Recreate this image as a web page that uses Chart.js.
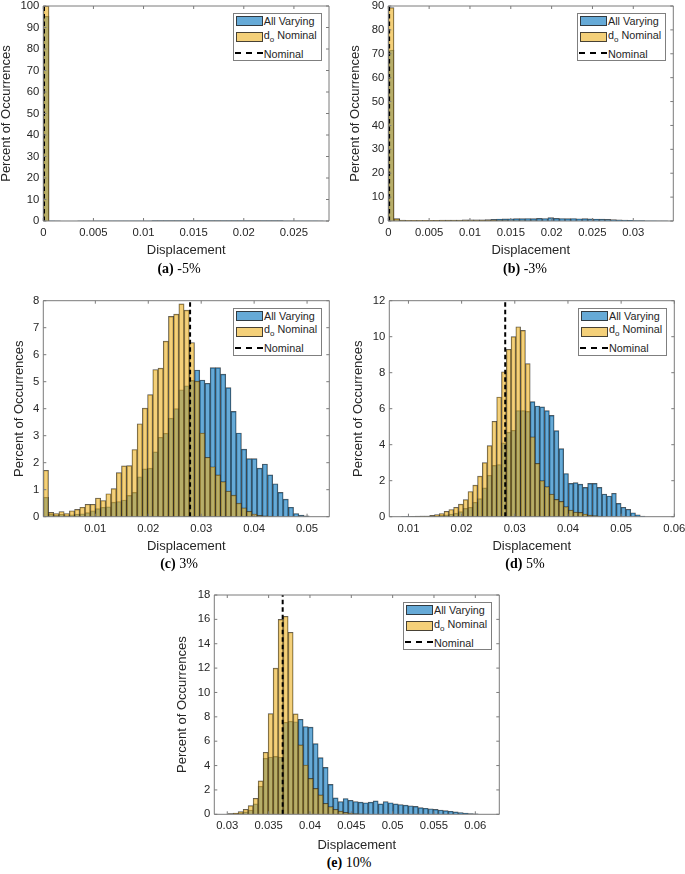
<!DOCTYPE html>
<html>
<head>
<meta charset="utf-8">
<script src="https://cdn.jsdelivr.net/npm/chart.js@4.4.1/dist/chart.umd.min.js"></script>
<style>
  body { margin: 0; background: #fff; }
  #page { position: relative; width: 685px; height: 874px; overflow: hidden; font-family: "Liberation Sans", Arial, sans-serif; }
  canvas { position: absolute; }
  .legend { position: absolute; width: 89px; height: 48px; border: 1px solid #7f7f7f; background: #fff; box-sizing: border-box; font-size: 10.8px; color: #262626; }
  .legend .sw { position: absolute; left: 2px; width: 27px; height: 10px; box-sizing: border-box; border: 1px solid rgba(40,40,40,0.85); }
  .legend .lbl { position: absolute; left: 30px; line-height: 12px; white-space: nowrap; }
  .legend .dash { position: absolute; left: 1px; width: 28px; height: 2px; background: repeating-linear-gradient(90deg, #000 0 6px, transparent 6px 11px); }
  .legend sub { font-size: 8px; line-height: 0; vertical-align: -3px; }
  .caption { position: absolute; font-family: "Liberation Serif", "Times New Roman", serif; font-size: 14px; color: #000; white-space: nowrap; transform: translate(-50%, -50%); }
</style>
</head>
<body>
<div id="page"></div>
<script>
// ---- data: (a) -5% ----
const xTicksA = [0, 0.005, 0.01, 0.015, 0.02, 0.025];
const yTicksA = [0, 10, 20, 30, 40, 50, 60, 70, 80, 90, 100];
const xRangeA = [0, 0.0285];
const binStartA = 0, binWidthA = 0.00057;
const allVaryingA = [95.2, 0.05, 0.03, 0.02, 0.02, 0.02, 0.03, 0.03, 0.04, 0.05,
  0.05, 0.06, 0.07, 0.08, 0.08, 0.1, 0.1, 0.12, 0.12, 0.14,
  0.15, 0.16, 0.17, 0.18, 0.2, 0.2, 0.22, 0.22, 0.23, 0.24,
  0.25, 0.25, 0.25, 0.24, 0.24, 0.23, 0.22, 0.2, 0.2, 0.18,
  0.17, 0.15, 0.13, 0.12, 0.1, 0.08, 0.06, 0.05, 0.03, 0.02];
const dNominalA = [100];
const nominalA = 0.00007;

// ---- data: (b) -3% ----
const xTicksB = [0, 0.005, 0.01, 0.015, 0.02, 0.025, 0.03];
const yTicksB = [0, 10, 20, 30, 40, 50, 60, 70, 80, 90];
const xRangeB = [0, 0.0349];
const binStartB = 0, binWidthB = 0.000698;
const allVaryingB = [71.6, 0.8, 0.3, 0.1, 0.1, 0.12, 0.15, 0.15, 0.2, 0.2,
  0.25, 0.28, 0.3, 0.35, 0.4, 0.45, 0.5, 0.55, 0.7, 0.85,
  0.9, 0.95, 1.0, 1.0, 1.05, 1.0, 1.1, 1.05, 1.4, 1.1,
  1.05, 1.0, 1.05, 0.95, 1.0, 0.9, 0.85, 0.8, 0.7, 0.6,
  0.5, 0.4, 0.3, 0.2, 0.15, 0.1, 0.06, 0.03, 0.02, 0.01];
const dNominalB = [89.3, 1.0, 0.4, 0.3, 0.25, 0.25, 0.3, 0.3, 0.3, 0.35,
  0.35, 0.4, 0.4, 0.45, 0.45, 0.4, 0.35, 0.3, 0.25, 0.2,
  0.15, 0.1, 0.08, 0.05, 0.03, 0.02, 0.01];
const nominalB = 0.0001;

// ---- data: (c) 3% ----
const xTicksC = [0.01, 0.02, 0.03, 0.04, 0.05];
const yTicksC = [0, 1, 2, 3, 4, 5, 6, 7, 8];
const xRangeC = [0.00017, 0.0542];
const binStartC = 0.00017, binWidthC = 0.000985;
const allVaryingC = [0.72, 0.09, 0.06, 0.09, 0.04, 0.07, 0.1, 0.11, 0.15, 0.22,
  0.3, 0.35, 0.37, 0.54, 0.56, 0.62, 0.79, 0.9, 1.48, 1.77,
  1.8, 2.4, 2.94, 3.09, 3.65, 4.0, 4.7, 4.85, 5.05, 5.43,
  5.06, 4.94, 5.52, 5.52, 5.28, 4.78, 3.9, 3.1, 2.5, 2.15,
  2.15, 1.8, 1.95, 1.55, 1.22, 0.9, 0.65, 0.35, 0.12, 0.06, 0.03];
const dNominalC = [1.72, 0.16, 0.12, 0.19, 0.12, 0.22, 0.27, 0.35, 0.46, 0.46,
  0.69, 0.6, 0.85, 1.04, 1.63, 1.88, 1.89, 2.49, 3.44, 4.02,
  4.52, 5.45, 5.5, 6.5, 7.42, 7.5, 7.88, 7.65, 6.45, 5.02,
  3.1, 2.2, 1.85, 1.55, 1.3, 0.95, 0.8, 0.5, 0.33, 0.2,
  0.1, 0.05, 0.03, 0.02];
const nominalC = 0.0279;

// ---- data: (d) 5% ----
const xTicksD = [0.01, 0.02, 0.03, 0.04, 0.05, 0.06];
const yTicksD = [0, 2, 4, 6, 8, 10, 12];
const xRangeD = [0.0064, 0.06];
const binStartD = 0.0068, binWidthD = 0.0009;
const allVaryingD = [0, 0, 0.01, 0.02, 0.02, 0.03, 0.03, 0.04, 0.03, 0.05,
  0.07, 0.1, 0.15, 0.2, 0.28, 0.46, 0.52, 0.8, 1.0, 1.6,
  2.3, 2.85, 2.9, 4.1, 4.7, 4.8, 5.9, 5.9, 5.85, 6.39,
  6.15, 6.1, 5.89, 5.63, 4.78, 3.78, 2.4, 1.85, 1.89, 1.81,
  1.63, 1.85, 1.85, 1.63, 1.26, 1.15, 1.3, 0.74, 0.52, 0.41,
  0.22, 0.11, 0.04];
const dNominalD = [0, 0, 0, 0, 0.01, 0.02, 0.03, 0.04, 0.07, 0.12,
  0.18, 0.3, 0.4, 0.52, 0.7, 0.95, 1.4, 1.75, 2.25, 3.0,
  3.95, 5.3, 6.65, 8.05, 9.3, 10.0, 10.55, 10.35, 8.5, 4.44,
  2.96, 2.0, 1.67, 1.26, 0.96, 0.85, 0.56, 0.37, 0.26, 0.24,
  0.15, 0.09, 0.06, 0.03];
const nominalD = 0.0282;

// ---- data: (e) 10% ----
const xTicksE = [0.03, 0.035, 0.04, 0.045, 0.05, 0.055, 0.06];
const yTicksE = [0, 2, 4, 6, 8, 10, 12, 14, 16, 18];
const xRangeE = [0.02843, 0.0629];
const binStartE = 0.0301, binWidthE = 0.000605;
const allVaryingE = [0.03, 0.05, 0.1, 0.2, 0.35, 0.85, 2.3, 4.6, 4.7, 4.75,
  4.7, 7.55, 7.65, 7.6, 7.8, 7.2, 7.15, 5.8, 4.65, 3.85,
  2.45, 1.35, 1.05, 1.3, 1.15, 1.05, 1.0, 0.95, 1.0, 1.1,
  0.85, 1.05, 0.95, 0.85, 0.8, 0.75, 0.7, 0.65, 0.55, 0.5,
  0.45, 0.4, 0.35, 0.3, 0.25, 0.2, 0.15, 0.1, 0.05, 0.03];
const dNominalE = [0.05, 0.11, 0.22, 0.41, 0.71, 1.31, 2.74, 5.09, 8.26, 12.0,
  16.0, 16.25, 14.94, 8.24, 5.7, 4.05, 2.95, 2.13, 1.59, 0.9,
  0.63, 0.41, 0.27, 0.16, 0.11, 0.05, 0.03, 0.02];
const nominalE = 0.0367;

// ---- styling ----
Chart.defaults.font.family = '"Liberation Sans", Arial, Helvetica, sans-serif';
Chart.defaults.color = "#262626";

const blueFill = "rgba(0,114,189,0.6)";
const yellowFill = "rgba(237,177,32,0.6)";
const edgeColor = "rgba(30,30,30,0.75)";
const page = document.getElementById("page");

const tickLabel = (v) => String(+Number(v).toFixed(4));

function binPoints(start, width, values) {
  return values.map((v, k) => ({ x: start + (k + 0.5) * width, y: v }));
}

// box round the axes with inward ticks, like MATLAB
const axisBox = {
  id: "axisBox",
  afterDatasetsDraw(chart) {
    const { ctx, chartArea: a, scales } = chart;
    ctx.save();
    ctx.strokeStyle = "#7b7b7b";
    ctx.lineWidth = 1;
    ctx.beginPath();
    ctx.rect(a.left, a.top, a.right - a.left, a.bottom - a.top);
    scales.x.ticks.forEach((t) => {
      const px = scales.x.getPixelForValue(t.value);
      ctx.moveTo(px, a.bottom); ctx.lineTo(px, a.bottom - 3);
      ctx.moveTo(px, a.top); ctx.lineTo(px, a.top + 3);
    });
    scales.y.ticks.forEach((t) => {
      const py = scales.y.getPixelForValue(t.value);
      ctx.moveTo(a.left, py); ctx.lineTo(a.left + 3, py);
      ctx.moveTo(a.right, py); ctx.lineTo(a.right - 3, py);
    });
    ctx.stroke();
    ctx.restore();
  },
};

function addLegend(chart, box) {
  const a = chart.chartArea;
  const lg = document.createElement("div");
  lg.className = "legend";
  lg.style.left = box.x + a.right - 7.3 - 89 + "px";
  lg.style.top = box.y + a.top + 7 + "px";
  lg.innerHTML =
    '<div class="sw" style="top:2.3px;background:#66aad7"></div>' +
    '<div class="lbl" style="top:1px">All Varying</div>' +
    '<div class="sw" style="top:18px;background:#f4d079"></div>' +
    '<div class="lbl" style="top:14.7px">d<sub>o</sub> Nominal</div>' +
    '<div class="dash" style="top:38px"></div>' +
    '<div class="lbl" style="top:33.6px">Nominal</div>';
  page.appendChild(lg);
}

function addCaption(html, x, y) {
  const c = document.createElement("div");
  c.className = "caption";
  c.style.left = x + "px";
  c.style.top = y + "px";
  c.innerHTML = html;
  page.appendChild(c);
}

function drawPanel(p) {
  const cv = document.createElement("canvas");
  cv.width = p.box.w;
  cv.height = p.box.h;
  cv.style.left = p.box.x + "px";
  cv.style.top = p.box.y + "px";
  page.appendChild(cv);

  const yW = p.plot.l - p.box.x;
  const xH = p.box.y + p.box.h - p.plot.b;
  const barOpts = { grouped: false, barPercentage: 1, categoryPercentage: 1, borderWidth: 0.7, borderColor: edgeColor };

  const chart = new Chart(cv, {
    type: "bar",
    data: {
      datasets: [
        { label: "All Varying", data: binPoints(p.binStart, p.binWidth, p.blue), backgroundColor: blueFill, order: 2, ...barOpts },
        { label: "d_o Nominal", data: binPoints(p.binStart, p.binWidth, p.yellow), backgroundColor: yellowFill, order: 1, ...barOpts },
        {
          type: "line", label: "Nominal",
          data: [{ x: p.nominal, y: 0 }, { x: p.nominal, y: p.yTicks[p.yTicks.length - 1] }],
          borderColor: "#000", borderWidth: 2, borderDash: [4.5, 3], pointRadius: 0, order: 0,
        },
      ],
    },
    options: {
      responsive: false,
      animation: false,
      events: [],
      layout: {
        autoPadding: false,
        padding: { left: 0, bottom: 0, top: p.plot.t - p.box.y, right: p.box.x + p.box.w - p.plot.r },
      },
      plugins: { legend: { display: false }, tooltip: { enabled: false } },
      scales: {
        x: {
          type: "linear",
          offset: false,
          min: p.xRange[0],
          max: p.xRange[1],
          grid: { display: false, drawTicks: false },
          border: { display: false },
          ticks: { font: { size: 11.3 }, padding: 5, maxRotation: 0, autoSkip: false, callback: tickLabel },
          afterBuildTicks: (s) => { s.ticks = p.xTicks.map((v) => ({ value: v })); },
          afterFit: (s) => { s.height = xH; s.paddingLeft = 0; s.paddingRight = 0; },
          title: {
            display: true, text: "Displacement", font: { size: 13 },
            padding: { top: 0, bottom: p.box.y + p.box.h - p.xTitleY - 7.8 },
          },
        },
        y: {
          min: 0,
          max: p.yTicks[p.yTicks.length - 1],
          grid: { display: false, drawTicks: false },
          border: { display: false },
          ticks: { font: { size: 11.3 }, padding: 4, autoSkip: false, callback: tickLabel },
          afterBuildTicks: (s) => { s.ticks = p.yTicks.map((v) => ({ value: v })); },
          afterFit: (s) => { s.width = yW; s.paddingTop = 0; s.paddingBottom = 0; },
          title: {
            display: true, text: "Percent of Occurrences", font: { size: 13 },
            padding: { top: p.yTitleX - p.box.x - 7.8, bottom: 0 },
          },
        },
      },
    },
    plugins: [axisBox],
  });

  addLegend(chart, p.box);
  addCaption(p.caption, p.capX, p.capY);
}

drawPanel({
  box: { x: -4, y: 0, w: 340, h: 262 }, plot: { l: 43.3, r: 329, t: 6, b: 221 },
  yTitleX: 6, xTitleY: 250,
  xTicks: xTicksA, yTicks: yTicksA, xRange: xRangeA,
  binStart: binStartA, binWidth: binWidthA, blue: allVaryingA, yellow: dNominalA, nominal: nominalA,
  caption: "<b>(a)</b> -5%", capX: 179, capY: 268.5,
});
drawPanel({
  box: { x: 345, y: 0, w: 340, h: 262 }, plot: { l: 388.3, r: 673.3, t: 6, b: 221 },
  yTitleX: 355.5, xTitleY: 250,
  xTicks: xTicksB, yTicks: yTicksB, xRange: xRangeB,
  binStart: binStartB, binWidth: binWidthB, blue: allVaryingB, yellow: dNominalB, nominal: nominalB,
  caption: "<b>(b)</b> -3%", capX: 525, capY: 268.5,
});
drawPanel({
  box: { x: -4, y: 292, w: 340, h: 266 }, plot: { l: 43.3, r: 329.3, t: 300.7, b: 516.7 },
  yTitleX: 19, xTitleY: 546.7,
  xTicks: xTicksC, yTicks: yTicksC, xRange: xRangeC,
  binStart: binStartC, binWidth: binWidthC, blue: allVaryingC, yellow: dNominalC, nominal: nominalC,
  caption: "<b>(c)</b> 3%", capX: 179, capY: 564,
});
drawPanel({
  box: { x: 345, y: 292, w: 340, h: 266 }, plot: { l: 389.3, r: 674.3, t: 300.7, b: 516.7 },
  yTitleX: 358, xTitleY: 546.7,
  xTicks: xTicksD, yTicks: yTicksD, xRange: xRangeD,
  binStart: binStartD, binWidth: binWidthD, blue: allVaryingD, yellow: dNominalD, nominal: nominalD,
  caption: "<b>(d)</b> 5%", capX: 525, capY: 564,
});
drawPanel({
  box: { x: 170, y: 585, w: 340, h: 270 }, plot: { l: 214.3, r: 499.3, t: 595, b: 814.3 },
  yTitleX: 182, xTitleY: 845,
  xTicks: xTicksE, yTicks: yTicksE, xRange: xRangeE,
  binStart: binStartE, binWidth: binWidthE, blue: allVaryingE, yellow: dNominalE, nominal: nominalE,
  caption: "<b>(e)</b> 10%", capX: 349, capY: 862.5,
});
</script>
</body>
</html>
